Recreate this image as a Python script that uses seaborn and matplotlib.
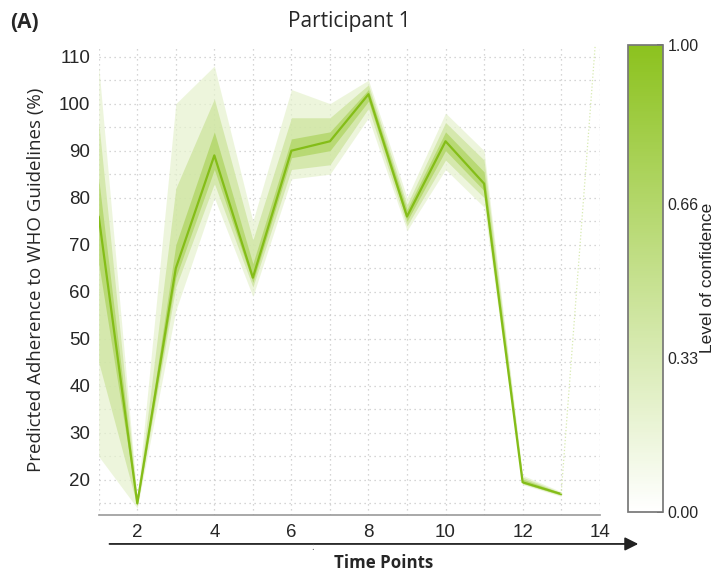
import numpy as np
import pandas as pd
import seaborn as sns
import matplotlib.pyplot as plt
from matplotlib.colors import LinearSegmentedColormap, Normalize
import matplotlib as mpl

# -----------------------
# Data
# -----------------------
time_points = [1, 2, 3, 4, 5, 6, 7, 8, 9, 10, 11, 12, 13]
adherence = [76, 15, 65, 89, 63, 90, 92, 102, 76, 92, 83, 19.5, 17]

# faint last segment (near-zero confidence)
tail_x = [13, 14]
tail_y = [17, 125]

# confidence bands: outer (low conf) -> inner (high conf)
outer_hi = [108, 16, 100, 108, 75, 103, 100, 105, 80, 98, 90, 21, 17.5]
outer_lo = [25, 14, 56, 80, 59, 84, 85, 97, 73, 86, 78, 19, 16.5]
mid_hi = [96, 15.6, 82, 101, 71, 97, 97, 104, 78.5, 96, 88, 20.6, 17.3]
mid_lo = [45, 14.4, 61, 83, 61, 86, 87, 99, 74, 88, 80, 19.2, 16.7]
inner_hi = [84, 15.3, 70, 94, 66, 92.5, 94, 103, 77.5, 94, 85.5, 20.2, 17.2]
inner_lo = [66, 14.7, 63, 86, 62, 88.5, 90, 100.5, 75, 90, 81.5, 19.3, 16.8]

band_levels = [0.22, 0.45, 0.72]
cbar_ticks = [0.0, 0.33, 0.66, 1.0]

df = pd.DataFrame({"Time": time_points, "Adherence": adherence})

# -----------------------
# Style
# -----------------------
sns.set_theme(style="white")
plt.rcParams["font.family"] = ["Open Sans", "DejaVu Sans"]

green = LinearSegmentedColormap.from_list("conf", ["#ffffff", "#8cc21e"])

fig = plt.figure(figsize=(7.26, 5.75), dpi=100)
ax = fig.add_axes([0.136, 0.104, 0.690, 0.818])

bands = [(outer_lo, outer_hi), (mid_lo, mid_hi), (inner_lo, inner_hi)]
for (lo, hi), lev in zip(bands, band_levels):
    ax.fill_between(time_points, lo, hi, color=green(lev), alpha=0.7,
                    linewidth=0, zorder=2)

sns.lineplot(data=df, x="Time", y="Adherence", ax=ax, color="#84bd18",
             linewidth=1.6, zorder=3)
ax.plot(tail_x, tail_y, color=green(0.35), linewidth=0.9, linestyle=":",
        zorder=3)

ax.set_xlim(1, 14)
ax.set_ylim(12.5, 112.5)
ax.set_xticks(range(2, 15, 2))
ax.set_yticks(range(20, 111, 10))
ax.set_xticks(range(1, 15), minor=True)
ax.set_yticks(range(15, 113, 5), minor=True)
ax.grid(which="both", color="#c8c8c8", linestyle=(0, (1, 3)), linewidth=0.9)
ax.set_axisbelow(True)
ax.tick_params(which="both", length=0)
ax.tick_params(axis="both", labelsize=13.5, pad=6)
for lab in ax.get_xticklabels() + ax.get_yticklabels():
    lab.set_family(["Liberation Sans", "DejaVu Sans"])

for s in ["top", "right", "left"]:
    ax.spines[s].set_visible(False)
ax.spines["bottom"].set_color("#999999")
ax.spines["bottom"].set_linewidth(1.2)

ax.set_xlabel("")
ax.set_ylabel("Predicted Adherence to WHO Guidelines (%)", fontsize=13.5,
              labelpad=10)
ax.set_title("Participant 1", fontsize=15, pad=13)

# colorbar
cax = fig.add_axes([0.865, 0.110, 0.048, 0.812])
cb = fig.colorbar(mpl.cm.ScalarMappable(norm=Normalize(0, 1), cmap=green),
                  cax=cax, ticks=cbar_ticks)
cb.ax.set_yticklabels(["0.00", "0.33", "0.66", "1.00"])
cb.ax.tick_params(labelsize=11.5, length=4, direction="in", color="#555555")
for lab in cb.ax.get_yticklabels():
    lab.set_family(["Liberation Sans", "DejaVu Sans"])
cb.outline.set_edgecolor("#777777")
cb.set_label("Level of confidence", fontsize=12.5, labelpad=1,
             family=["Liberation Sans", "DejaVu Sans"])

# time axis arrow and labels
fig.add_artist(mpl.patches.FancyArrowPatch((0.147, 0.054), (0.883, 0.054),
               transform=fig.transFigure, arrowstyle="-|>,head_length=8,head_width=4",
               color="#222222", linewidth=1.3))
fig.text(0.43, 0.044, ":", fontsize=7, color="#555555", ha="center")
fig.text(0.528, 0.012, "Time Points", fontsize=12.2, fontweight="bold",
         ha="center")
fig.text(0.014, 0.952, "(A)", fontsize=15, fontweight="bold")

plt.savefig("out.png", dpi=100)
plt.close()
